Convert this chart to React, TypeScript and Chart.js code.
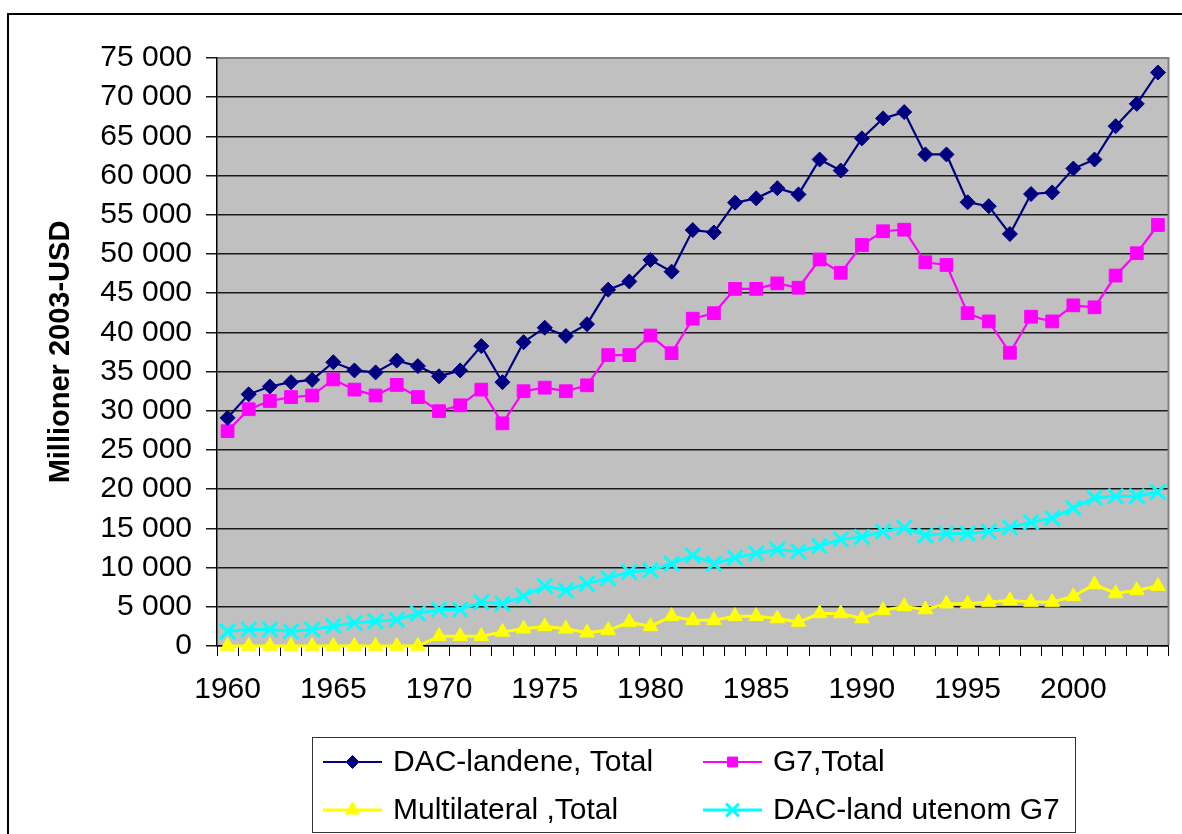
import React, { useEffect, useRef } from 'react';
import { Chart, registerables } from 'chart.js';
import { drawPoint } from 'chart.js/helpers';

Chart.register(...registerables);

const years = [
  '1960', '1961', '1962', '1963', '1964', '1965', '1966', '1967', '1968', '1969',
  '1970', '1971', '1972', '1973', '1974', '1975', '1976', '1977', '1978', '1979',
  '1980', '1981', '1982', '1983', '1984', '1985', '1986', '1987', '1988', '1989',
  '1990', '1991', '1992', '1993', '1994', '1995', '1996', '1997', '1998', '1999',
  '2000', '2001', '2002', '2003', '2004',
];

const dacTotal = [
  29100, 32100, 33100, 33650, 33950, 36200, 35150, 34900, 36400, 35700,
  34400, 35150, 38250, 33650, 38750, 40600, 39550, 41050, 45450, 46500,
  49250, 47750, 53050, 52750, 56550, 57100, 58400, 57600, 62050, 60650,
  64750, 67300, 68100, 62700, 62700, 56600, 56100, 52550, 57650, 57850,
  60900, 62050, 66300, 69150, 73150,
];

const g7Total = [
  27400, 30200, 31250, 31750, 31950, 34000, 32700, 31950, 33300, 31750,
  29950, 30700, 32700, 28400, 32500, 32950, 32500, 33250, 37100, 37100,
  39600, 37350, 41750, 42450, 45550, 45550, 46250, 45700, 49300, 47600,
  51150, 52900, 53100, 48950, 48600, 42450, 41400, 37400, 42000, 41400,
  43450, 43200, 47250, 50100, 53700,
];

const multilateralTotal = [
  0, 0, 0, 0, 0, 0, 0, 0, 0, 0,
  1250, 1250, 1250, 1800, 2200, 2500, 2200, 1700, 2000, 3050,
  2500, 3800, 3300, 3300, 3800, 3800, 3500, 3050, 4150, 4150,
  3500, 4550, 5050, 4650, 5400, 5400, 5600, 5800, 5600, 5600,
  6350, 7850, 6700, 7100, 7650,
];

const dacExclG7 = [
  1850, 2100, 2100, 1850, 2100, 2550, 2950, 3150, 3350, 4150,
  4650, 4650, 5600, 5400, 6350, 7650, 7100, 7950, 8650, 9450,
  9650, 10500, 11550, 10500, 11250, 11800, 12300, 12050, 12750, 13600,
  13900, 14600, 15100, 14100, 14350, 14350, 14600, 15100, 15800, 16300,
  17600, 18900, 19100, 19100, 19650,
];

const seriesNames = [
  'DAC-landene, Total',
  'G7,Total',
  'Multilateral ,Total',
  'DAC-land utenom G7',
];

const yTitle = 'Millioner 2003-USD';
const FONT = '"Liberation Sans", Arial, Helvetica, sans-serif';

const fmt = (v: number) => String(v).replace(/\B(?=(\d{3})+(?!\d))/g, ' ');

const decorPlugin = {
  id: 'decor',
  beforeDraw(chart: any) {
    const { ctx, chartArea: a } = chart;
    ctx.save();
    ctx.fillStyle = '#ffffff';
    ctx.fillRect(0, 0, chart.width, chart.height);
    ctx.fillStyle = '#c0c0c0';
    ctx.fillRect(a.left, a.top, a.right - a.left, a.bottom - a.top);
    ctx.strokeStyle = '#000000';
    ctx.lineWidth = 2;
    ctx.strokeRect(8, 14, chart.width + 100, chart.height + 100);
    ctx.restore();
  },
  beforeDatasetsDraw(chart: any) {
    const { ctx, chartArea: a } = chart;
    ctx.save();
    ctx.strokeStyle = '#808080';
    ctx.lineWidth = 2;
    ctx.beginPath();
    ctx.moveTo(a.left + 1, a.top);
    ctx.lineTo(a.right, a.top);
    ctx.lineTo(a.right, a.bottom - 1);
    ctx.stroke();
    ctx.restore();
  },
  afterDraw(chart: any) {
    const { ctx } = chart;
    ctx.save();
    ctx.strokeStyle = '#333333';
    ctx.lineWidth = 1;
    ctx.strokeRect(312.5, 737.5, 763, 95);
    const cols = [323, 703];
    const rows = [762, 810];
    chart.data.datasets.forEach((ds: any, i: number) => {
      const x0 = cols[i % 2];
      const y = rows[Math.floor(i / 2)];
      ctx.strokeStyle = ds.borderColor;
      ctx.lineWidth = ds.borderWidth;
      ctx.beginPath();
      ctx.moveTo(x0, y);
      ctx.lineTo(x0 + 59, y);
      ctx.stroke();
      ctx.fillStyle = ds.pointBackgroundColor;
      ctx.strokeStyle = ds.pointBorderColor;
      ctx.lineWidth = ds.pointBorderWidth;
      drawPoint(ctx, {
        pointStyle: ds.pointStyle,
        radius: ds.legendRadius,
        rotation: 0,
        borderWidth: ds.pointBorderWidth,
      } as any, x0 + 29.5, y);
      ctx.fillStyle = '#000000';
      ctx.font = `30px ${FONT}`;
      ctx.textBaseline = 'middle';
      ctx.textAlign = 'left';
      ctx.fillText(ds.label, x0 + 70, y + 1);
    });
    ctx.restore();
  },
};

export default function App() {
  const ref = useRef<HTMLCanvasElement | null>(null);

  useEffect(() => {
    if (!ref.current) return;
    const mk = (label: string, data: number[], color: string, style: string, radius: number, legendRadius: number, bw: number, lw: number) => ({
      label,
      data,
      borderColor: color,
      backgroundColor: color,
      borderWidth: lw,
      pointStyle: style,
      pointRadius: radius,
      pointHoverRadius: radius,
      pointBackgroundColor: color,
      pointBorderColor: color,
      pointBorderWidth: bw,
      legendRadius,
      tension: 0,
      fill: false,
      clip: false,
    });
    const chart = new Chart(ref.current, {
      type: 'line',
      data: {
        labels: years,
        datasets: [
          mk(seriesNames[0], dacTotal, '#000080', 'rectRot', 7.5, 6.5, 1, 2.2),
          mk(seriesNames[1], g7Total, '#ff00ff', 'rect', 9, 7, 1, 2.2),
          mk(seriesNames[2], multilateralTotal, '#ffff00', 'triangle', 8.5, 8, 1, 3),
          mk(seriesNames[3], dacExclG7, '#00ffff', 'crossRot', 10.5, 9, 3, 3),
        ] as any,
      },
      options: {
        animation: false,
        responsive: false,
        maintainAspectRatio: false,
        layout: { padding: { top: 58, right: 6, bottom: 0, left: 0 } },
        plugins: {
          legend: { display: false },
          tooltip: { enabled: false },
        },
        scales: {
          x: {
            type: 'category',
            offset: true,
            afterFit: (s: any) => { s.height = 188; },
            grid: {
              offset: true,
              drawOnChartArea: false,
              drawTicks: true,
              tickLength: 10,
              color: '#000000',
              lineWidth: 1,
            },
            border: { color: '#000000', width: 1.5 },
            ticks: {
              autoSkip: false,
              maxRotation: 0,
              minRotation: 0,
              padding: 16,
              color: '#000000',
              font: { family: FONT, size: 30 },
              callback: (_v: any, i: number) => (Number(years[i]) % 5 === 0 ? years[i] : ''),
            },
          },
          y: {
            min: 0,
            max: 75000,
            afterFit: (s: any) => { s.width = 217; },
            grid: {
              color: '#1a1a1a',
              lineWidth: 1.5,
              tickLength: 11,
              drawTicks: true,
            },
            border: { color: '#000000', width: 1.5 },
            ticks: {
              stepSize: 5000,
              padding: 14,
              color: '#000000',
              font: { family: FONT, size: 30 },
              callback: (v: any) => fmt(Number(v)),
            },
            title: {
              display: true,
              text: yTitle,
              color: '#000000',
              font: { family: FONT, size: 29, weight: 'bold' },
              padding: { top: 44, bottom: 0 },
            },
          },
        },
      },
      plugins: [decorPlugin],
    } as any);
    return () => chart.destroy();
  }, []);

  return (
    <div style={{ position: 'absolute', left: 0, top: 0, width: 1182, height: 834 }}>
      <canvas ref={ref} width={1182} height={834} style={{ width: 1182, height: 834, display: 'block' }} />
    </div>
  );
}
